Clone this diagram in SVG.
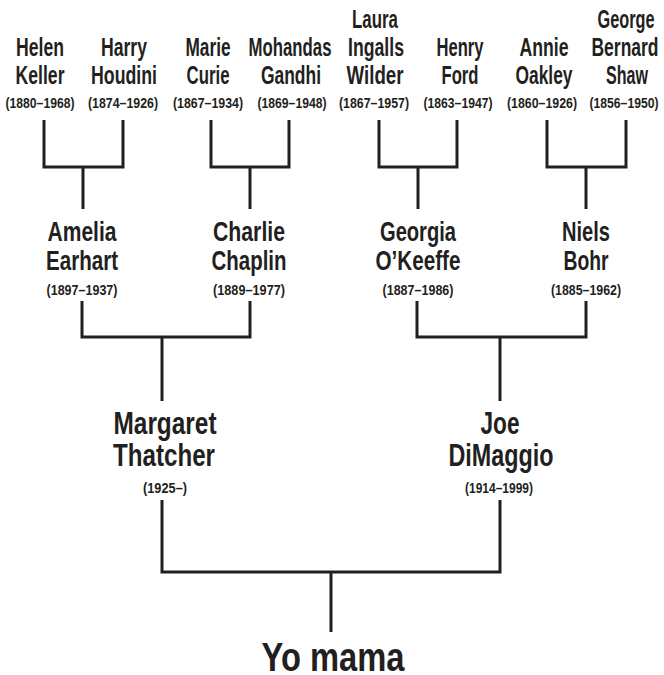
<svg xmlns="http://www.w3.org/2000/svg" width="664" height="675" viewBox="0 0 664 675">
<style>
text{font-family:"Liberation Sans",Arial,sans-serif;font-weight:bold;fill:#231f20;text-anchor:middle}
.n1{font-size:26px}
.n2{font-size:28px}
.n3{font-size:31px}
.d{font-size:15px}
.top{font-size:40px}
.ln{fill:none;stroke:#231f20;stroke-width:3;stroke-linejoin:miter;stroke-linecap:butt}
</style>
<rect width="664" height="675" fill="#ffffff"/>
<g id="connectors">
<path class="ln" d="M44 120V167H123V120M83 167V209"/>
<path class="ln" d="M211 120V167H289V120M250 167V209"/>
<path class="ln" d="M379 120V167H457V120M418 167V209"/>
<path class="ln" d="M547 120V167H626V120M586 167V209"/>
<path class="ln" d="M82 301V337H250V301M162 337V401"/>
<path class="ln" d="M417 301V337H586V301M500 337V401"/>
<path class="ln" d="M162 500V572H500V500M331 572V632"/>
</g>
<g id="helen-keller">
<text class="n1" x="40" y="56" textLength="48" lengthAdjust="spacingAndGlyphs">Helen</text>
<text class="n1" x="40" y="84" textLength="49" lengthAdjust="spacingAndGlyphs">Keller</text>
<text class="d" x="40" y="108" textLength="69" lengthAdjust="spacingAndGlyphs">(1880–1968)</text>
</g>
<g id="harry-houdini">
<text class="n1" x="124" y="56" textLength="46" lengthAdjust="spacingAndGlyphs">Harry</text>
<text class="n1" x="124" y="84" textLength="66" lengthAdjust="spacingAndGlyphs">Houdini</text>
<text class="d" x="123" y="108" textLength="70" lengthAdjust="spacingAndGlyphs">(1874–1926)</text>
</g>
<g id="marie-curie">
<text class="n1" x="208" y="56" textLength="45" lengthAdjust="spacingAndGlyphs">Marie</text>
<text class="n1" x="208" y="84" textLength="43" lengthAdjust="spacingAndGlyphs">Curie</text>
<text class="d" x="208" y="108" textLength="70" lengthAdjust="spacingAndGlyphs">(1867–1934)</text>
</g>
<g id="mohandas-gandhi">
<text class="n1" x="290" y="56" textLength="83" lengthAdjust="spacingAndGlyphs">Mohandas</text>
<text class="n1" x="291" y="84" textLength="60" lengthAdjust="spacingAndGlyphs">Gandhi</text>
<text class="d" x="292" y="108" textLength="69" lengthAdjust="spacingAndGlyphs">(1869–1948)</text>
</g>
<g id="laura-ingalls-wilder">
<text class="n1" x="375" y="28" textLength="46" lengthAdjust="spacingAndGlyphs">Laura</text>
<text class="n1" x="376" y="56" textLength="56" lengthAdjust="spacingAndGlyphs">Ingalls</text>
<text class="n1" x="375" y="84" textLength="57" lengthAdjust="spacingAndGlyphs">Wilder</text>
<text class="d" x="374" y="108" textLength="70" lengthAdjust="spacingAndGlyphs">(1867–1957)</text>
</g>
<g id="henry-ford">
<text class="n1" x="460" y="56" textLength="47" lengthAdjust="spacingAndGlyphs">Henry</text>
<text class="n1" x="460" y="84" textLength="37" lengthAdjust="spacingAndGlyphs">Ford</text>
<text class="d" x="458" y="108" textLength="69" lengthAdjust="spacingAndGlyphs">(1863–1947)</text>
</g>
<g id="annie-oakley">
<text class="n1" x="544" y="56" textLength="49" lengthAdjust="spacingAndGlyphs">Annie</text>
<text class="n1" x="544" y="84" textLength="57" lengthAdjust="spacingAndGlyphs">Oakley</text>
<text class="d" x="542" y="108" textLength="70" lengthAdjust="spacingAndGlyphs">(1860–1926)</text>
</g>
<g id="george-bernard-shaw">
<text class="n1" x="626" y="28" textLength="57" lengthAdjust="spacingAndGlyphs">George</text>
<text class="n1" x="625" y="56" textLength="67" lengthAdjust="spacingAndGlyphs">Bernard</text>
<text class="n1" x="627" y="84" textLength="42" lengthAdjust="spacingAndGlyphs">Shaw</text>
<text class="d" x="624" y="108" textLength="69" lengthAdjust="spacingAndGlyphs">(1856–1950)</text>
</g>
<g id="amelia-earhart">
<text class="n2" x="82" y="241" textLength="69" lengthAdjust="spacingAndGlyphs">Amelia</text>
<text class="n2" x="82" y="270" textLength="72" lengthAdjust="spacingAndGlyphs">Earhart</text>
<text class="d" x="82" y="295" textLength="71" lengthAdjust="spacingAndGlyphs">(1897–1937)</text>
</g>
<g id="charlie-chaplin">
<text class="n2" x="249" y="241" textLength="72" lengthAdjust="spacingAndGlyphs">Charlie</text>
<text class="n2" x="249" y="270" textLength="75" lengthAdjust="spacingAndGlyphs">Chaplin</text>
<text class="d" x="249" y="295" textLength="72" lengthAdjust="spacingAndGlyphs">(1889–1977)</text>
</g>
<g id="georgia-okeeffe">
<text class="n2" x="418" y="241" textLength="76" lengthAdjust="spacingAndGlyphs">Georgia</text>
<text class="n2" x="418" y="270" textLength="85" lengthAdjust="spacingAndGlyphs">O’Keeffe</text>
<text class="d" x="418" y="295" textLength="71" lengthAdjust="spacingAndGlyphs">(1887–1986)</text>
</g>
<g id="niels-bohr">
<text class="n2" x="586" y="241" textLength="48" lengthAdjust="spacingAndGlyphs">Niels</text>
<text class="n2" x="586" y="270" textLength="45" lengthAdjust="spacingAndGlyphs">Bohr</text>
<text class="d" x="586" y="295" textLength="70" lengthAdjust="spacingAndGlyphs">(1885–1962)</text>
</g>
<g id="margaret-thatcher">
<text class="n3" x="165" y="434" textLength="103" lengthAdjust="spacingAndGlyphs">Margaret</text>
<text class="n3" x="164" y="466" textLength="102" lengthAdjust="spacingAndGlyphs">Thatcher</text>
<text class="d" x="165" y="493" textLength="44" lengthAdjust="spacingAndGlyphs">(1925–)</text>
</g>
<g id="joe-dimaggio">
<text class="n3" x="500" y="434" textLength="39" lengthAdjust="spacingAndGlyphs">Joe</text>
<text class="n3" x="501" y="466" textLength="105" lengthAdjust="spacingAndGlyphs">DiMaggio</text>
<text class="d" x="499" y="493" textLength="68" lengthAdjust="spacingAndGlyphs">(1914–1999)</text>
</g>
<g id="yo-mama">
<text class="top" x="333" y="671" textLength="143" lengthAdjust="spacingAndGlyphs">Yo mama</text>
</g>
</svg>
